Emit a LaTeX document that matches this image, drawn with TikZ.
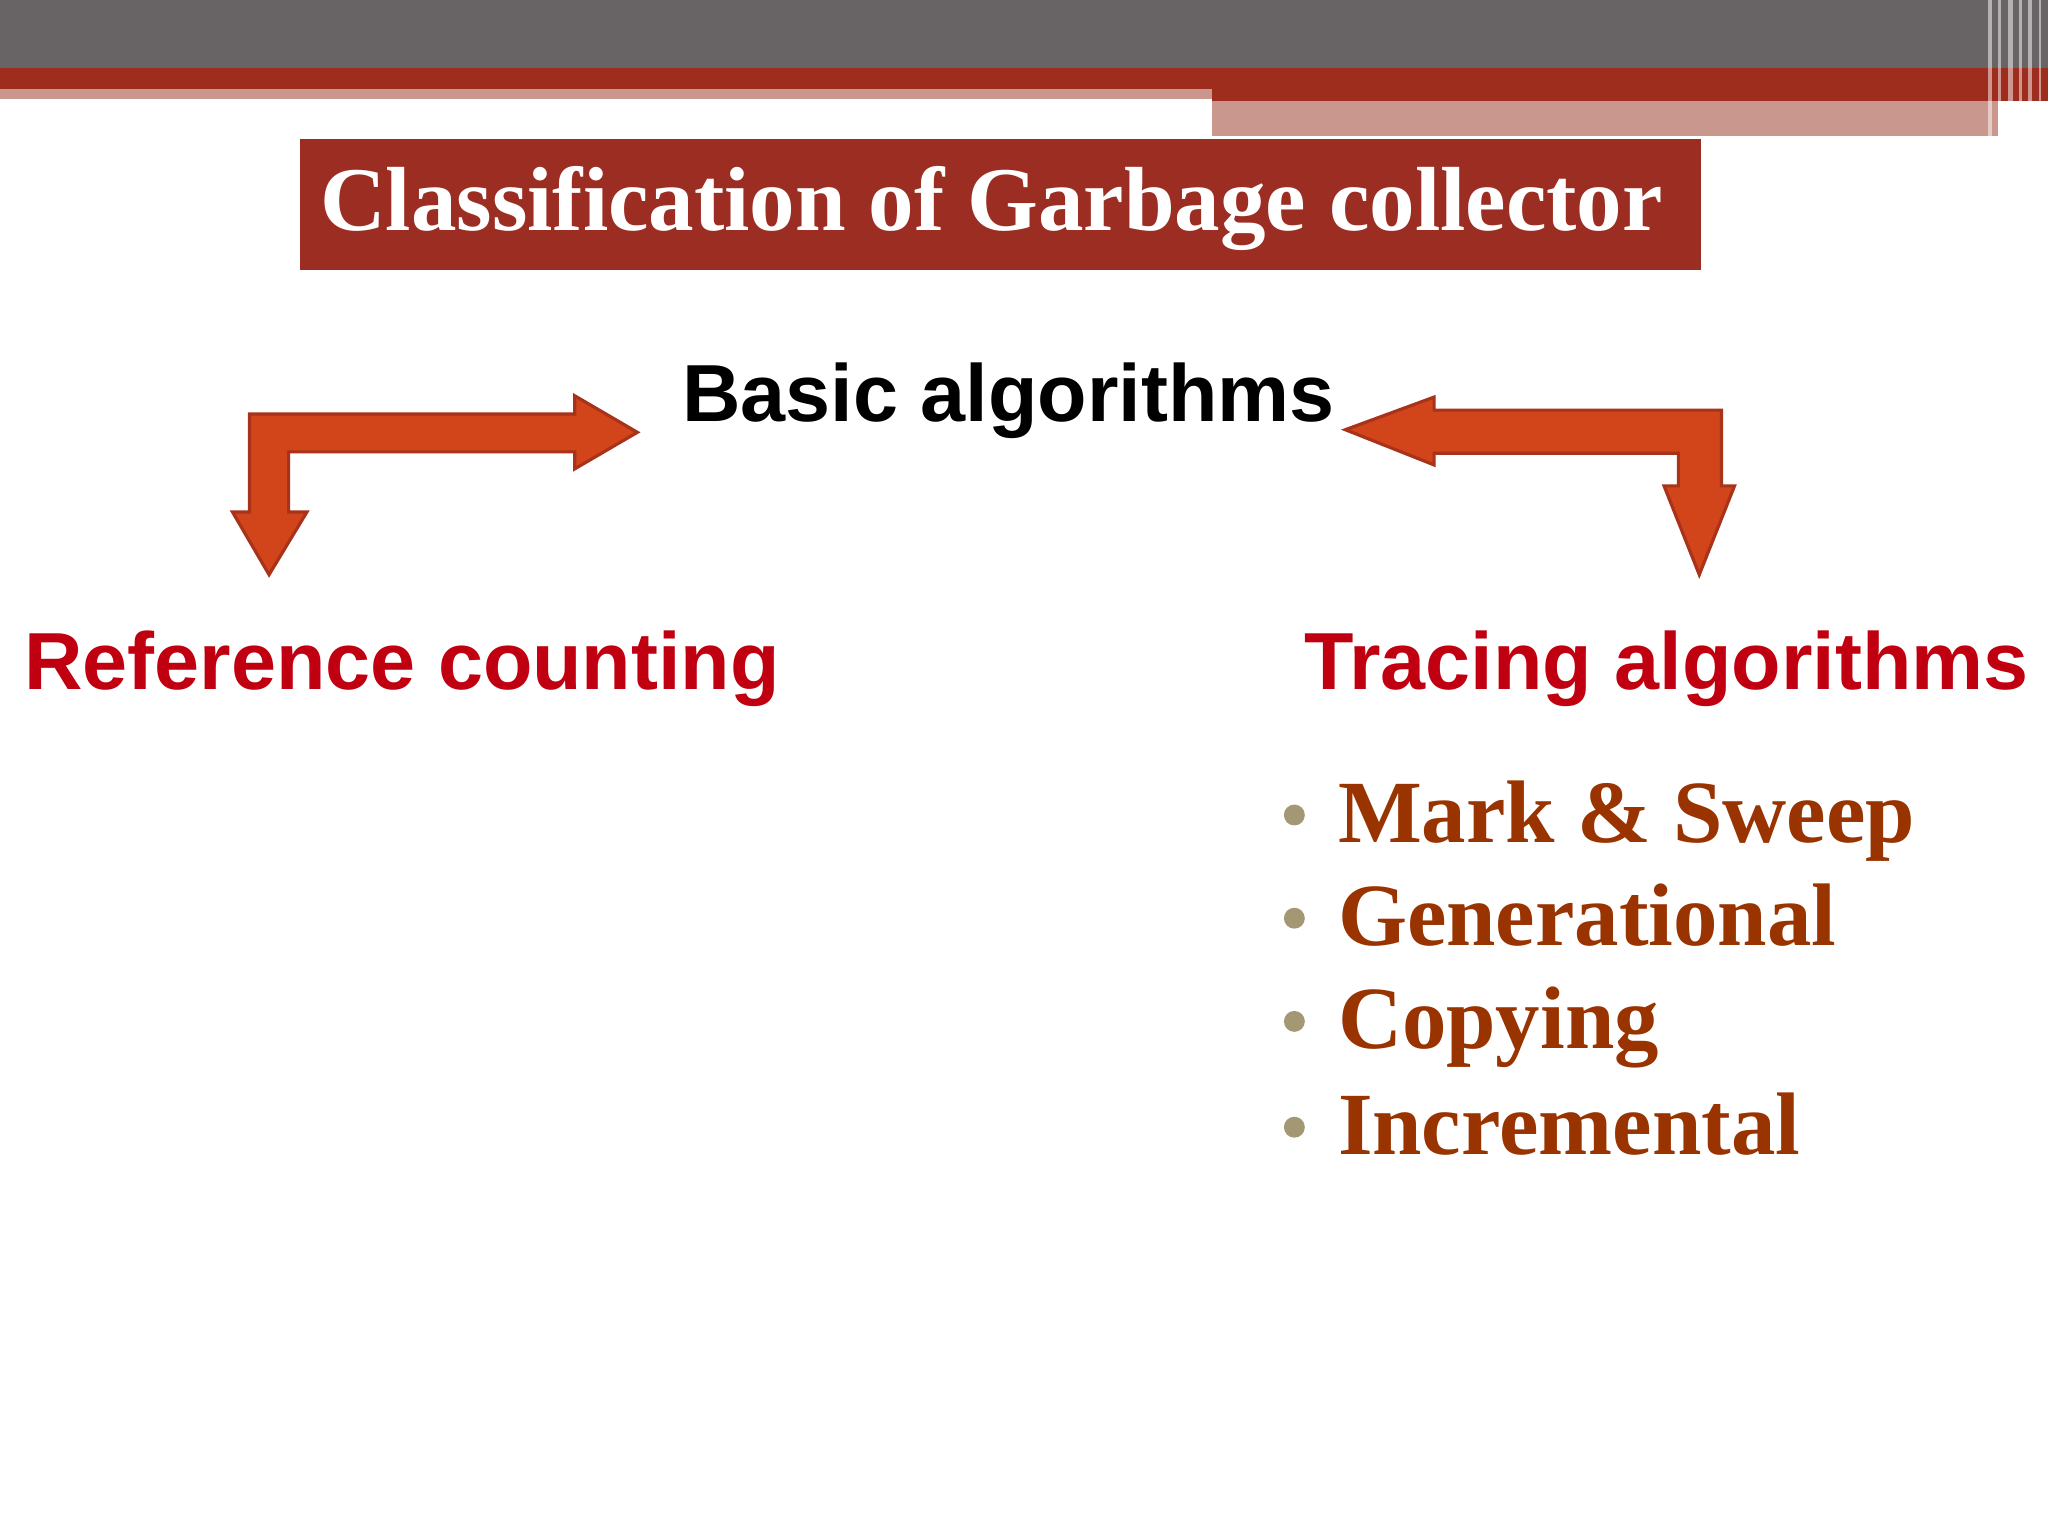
\documentclass[tikz,border=0pt]{standalone}
\usepackage{fontspec}
\setmainfont{Liberation Serif}
\setsansfont{Liberation Sans}
\definecolor{gbar}{HTML}{686364}
\definecolor{rbar}{HTML}{9E2D1E}
\definecolor{pbar}{HTML}{CA978E}
\definecolor{tbox}{HTML}{9B2D22}
\definecolor{afill}{HTML}{D24419}
\definecolor{adraw}{HTML}{A8321A}
\definecolor{redtxt}{HTML}{C00010}
\definecolor{brown}{HTML}{993300}
\definecolor{dot}{HTML}{A39873}
\begin{document}
\begin{tikzpicture}[x=0.5pt,y=-0.5pt,
  arrowshape/.style={fill=afill,draw=adraw,line width=1.2pt,line join=miter},
  head/.style={font=\sffamily\bfseries\fontsize{31}{36}\selectfont,anchor=base west,inner sep=0},
  item/.style={font=\rmfamily\bfseries\fontsize{34}{40}\selectfont,text=brown,anchor=base west,inner sep=0},
  bul/.style={circle,fill=dot,inner sep=0,minimum size=8pt}]
\useasboundingbox (0,0) rectangle (1568,1176);
\fill[white] (0,0) rectangle (1568,1176);
\fill[gbar] (0,0) rectangle (1568,52);
\fill[rbar] (0,52) rectangle (928,68);
\fill[pbar] (0,68) rectangle (928,76);
\fill[rbar] (928,52) rectangle (1568,77);
\fill[pbar] (928,77) rectangle (1530,104);
\foreach \x/\w in {1522/3,1530/2,1537/4,1546/2,1553/3,1561/2}{\fill[white,opacity=0.5] (\x,0) rectangle (\x+\w,104);}
\node[fill=tbox,minimum width=536.5pt,minimum height=50pt,inner sep=0,anchor=north west] (title) at (229,106) {};
\node[text=white,font=\rmfamily\bfseries\fontsize{36}{40}\selectfont,inner sep=0] (ttext) at (759,160) {\resizebox{514pt}{!}{Classification of Garbage collector}};
\node[head] (basic) at (522,323) {Basic algorithms};
\node[head,text=redtxt] (ref) at (18,528) {Reference counting};
\node[head,text=redtxt] (trace) at (998,528) {Tracing algorithms};
\draw[arrowshape] (191,317) -- (440,317) -- (440,303) -- (488,331) -- (440,359) -- (440,346) -- (221,346) -- (221,392) -- (235,392) -- (206,440) -- (178,392) -- (191,392) -- cycle;
\draw[arrowshape] (1318,314) -- (1098,314) -- (1098,304) -- (1030,329) -- (1098,356) -- (1098,347) -- (1285,347) -- (1285,372) -- (1274,372) -- (1301,440) -- (1328,372) -- (1318,372) -- cycle;
\foreach \n/\t/\y in {i1/Mark \& Sweep/645,i2/Generational/724,i3/Copying/803,i4/Incremental/884}{
  \node[bul] (b\n) at (991,\y-21) {};
  \node[item] (\n) at (1024,\y) {\t};
}
\end{tikzpicture}
\end{document}
